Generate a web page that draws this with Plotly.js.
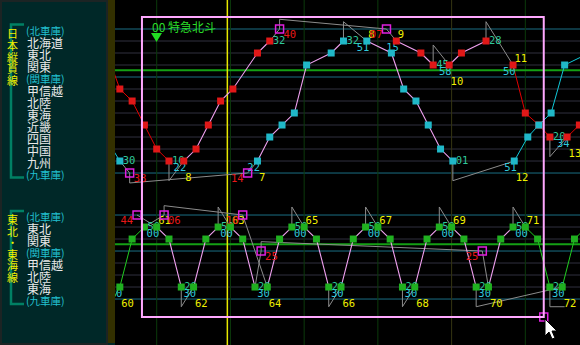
<!DOCTYPE html>
<html><head><meta charset="utf-8">
<script src="https://cdn.plot.ly/plotly-3.0.1.min.js"></script>
<style>html,body{margin:0;padding:0;background:#002828;}#chart{width:580px;height:345px;}</style>
</head><body><div id="chart"></div>
<script>
// ---------- stations (rows) ----------
const topStations = ['(北車庫)','北海道','東北','関東','(関車庫)','甲信越','北陸','東海','近畿','四国','中国','九州','(九車庫)'];
const botStations = ['(北車庫)','東北','関東','(関車庫)','甲信越','北陸','東海','(九車庫)'];
const botOffset = 15.5;

// ---------- time axis (minutes) ----------
const hourTicks = [60,120,180,240,300,360];
const nowT = 117.5;
const selT = [48, 375];
const selV = [-1, 24];
const hiliteV = [3.44, 17.94];

// ---------- 日本縦貫線 : red train ----------
const redTripNo   = ['', '8', '9', '10', '11', '13'];
const redTripSta  = [[3,5,6,8,10,11],[11,10,8,6,5,2,1],[1,2,3],[3,2,1],[3,7,8,9],[9,8]];
const redTripTime = [[23,30,40,50,60,70],[82,92,102,112,122,142,152],[255,275,285],[298,308,328],[350,360,371,380],[394,404]];

// ---------- 日本縦貫線 : cyan train ----------
const cyanTripNo   = ['', '7', '8', '12'];
const cyanTripSta  = [[10,11],[11,9,8,7,3,2,1],[1,2,5,6,8,10,11],[11,9,8,7,3,2]];
const cyanTripTime = [[24,30],[142,152,162,172,182,202,212],[231,251,261,271,281,291,301],[351,362,371,381,392,412]];

// ---------- 東北・東海線 : green train (row index in botStations) ----------
const greenTripNo   = ['60','61','62','63','64','65','66','67','68','69','70','71','72'];
const greenTripSta  = [[6,2,1],[1,2,6],[6,2,1],[1,2,6],[6,2,1],[1,2,6],[6,2,1],[1,2,6],[6,2,1],[1,2,6],[6,2,1],[1,2,6],[6,2,1]];
const greenTripTime = [[30,40,50],[60,70,80],[90,100,110],[120,130,140],[150,160,170],[180,190,200],[210,220,230],[240,250,260],[270,280,290],[300,310,320],[330,340,350],[360,370,380],[390,400,410]];
const greenLeadT = [25, 29.5];   // run-in from 九車庫
const greenLeadS = [7, 6];

// ---------- depot moves / turnaround links (gray) ----------
const grayTopT = [30,38,null, 38,38,134,142,null, 152,160,null, 160,160,247,255,null, 70,70,82,null, 212,212,231,null, 285,285,298,null, 301,301,351,null, 328,328,350,null, 380,380,394];
const grayTopV = [11,12,null, 12,12.83,12,11,null, 1,0,null, 0,-0.81,0,1,null, 11,12.64,11,null, 1,-0.61,1,null, 3,1.33,3,null, 11,12.64,11,null, 1,-0.61,3,null, 9,10.64,9];
const grayBotT = [44,60,null, 66,50,null, 66,66,130,150,null, 140,145,null, 145,145,325,330,null, 80,80,90,null, 110,110,120,null, 170,170,180,null, 200,200,210,null, 230,230,240,null, 260,260,270,null, 290,290,300,null, 320,320,390,null, 350,350,360,null, 380,380,392];
const grayBotV = [15.5,16.5,null, 15.5,16.5,null, 15.5,14.72,15.5,21.5,null, 21.5,18.5,null, 18.5,17.72,18.5,21.5,null, 21.5,23.14,21.5,null, 16.5,14.83,16.5,null, 16.5,14.83,16.5,null, 21.5,23.14,21.5,null, 16.5,14.83,16.5,null, 21.5,23.14,21.5,null, 16.5,14.83,16.5,null, 21.5,23.14,21.5,null, 16.5,14.83,16.5,null, 21.5,23.14,23.14];

// depot in / out events
const depotInT  = [38, 160, 66, 145];
const depotInV  = [12, 0, 15.5, 18.5];
const depotOutT = [134, 247, 44, 130, 325];
const depotOutV = [12, 0, 15.5, 15.5, 18.5];

// ---------- geometry ----------
const W = 580, H = 345, ML = 115;
const xRange = [26.06, 404.5];
const yRange = [26.33, -2.417];
const pxPerMin = (W - ML) / (xRange[1] - xRange[0]);
const pxPerV = H / (yRange[0] - yRange[1]);
const oT = p => p / pxPerMin;
const oV = p => p / pxPerV;
const PX = x => (x - ML) / (W - ML);
const PY = y => 1 - y / H;
const pad = t => { const m = Math.round(t) % 60; return (m < 10 ? '0' : '') + m; };
const CW = 6.3; // digit width px

const C = {pink:'#f0a0f0', gray:'#8c8c8c', teal:'#30c89a', cyan:'#30c8dc', yellow:'#f0f000', red:'#e81818', mag:'#e020e0'};

const trains = [
  {no: redTripNo, sta: redTripSta, time: redTripTime, off: 0, line: '#e00000', mk: '#e01818'},
  {no: cyanTripNo, sta: cyanTripSta, time: cyanTripTime, off: 0, line: '#10c8d8', mk: '#20b8c8'},
  {no: greenTripNo, sta: greenTripSta, time: greenTripTime, off: botOffset, line: '#20cc20', mk: '#20b020'}
];

const traces = [];
traces.push({x: grayTopT.concat([null], grayBotT), y: grayTopV.concat([null], grayBotV), mode:'lines',
  line:{color:C.gray, width:1}, hoverinfo:'skip', showlegend:false});
traces.push({x: greenLeadT, y: greenLeadS.map(s => s + botOffset), mode:'lines', line:{color:'#20cc20', width:1}, hoverinfo:'skip', showlegend:false});

const txt = {teal:{x:[],y:[],t:[]}, cyan:{x:[],y:[],t:[]}, yellow:{x:[],y:[],t:[]}, red:{x:[],y:[],t:[]}};
const addTxt = (k, x, y, t) => { if (x > xRange[0] && x < xRange[1]) { txt[k].x.push(x); txt[k].y.push(y); txt[k].t.push(t); } };
const markerTraces = [];

trains.forEach(tr => {
  const base = {x:[],y:[]}, pink = {x:[],y:[]}, mk = {x:[],y:[]};
  tr.sta.forEach((s, k) => {
    const tm = tr.time[k];
    const inSel = tm[0] >= selT[0] && tm[tm.length-1] <= selT[1];
    const tgt = inSel ? pink : base;
    s.forEach((st, i) => {
      tgt.x.push(tm[i]); tgt.y.push(st + tr.off);
      mk.x.push(tm[i]); mk.y.push(st + tr.off);
    });
    tgt.x.push(null); tgt.y.push(null);
    if (tr.no[k] !== '') {
      const d = pad(tm[0]);
      addTxt('cyan', tm[0] + oT(2.5 - d.length*CW/2), s[0] + tr.off + oV(7.5), d);
      const n = tr.no[k];
      const up = s[1] < s[0];
      addTxt('yellow', tm[0] + oT(1.5 + n.length*CW/2), s[0] + tr.off + oV(up ? 17 : -6), n);
    }
    const last = s.length - 1;
    const a = pad(tm[last]);
    addTxt('teal', tm[last] + oT(3 + a.length*CW/2), s[last] + tr.off, a);
  });
  traces.push({x: base.x, y: base.y, mode:'lines', line:{color: tr.line, width:1}, hoverinfo:'skip', showlegend:false});
  traces.push({x: pink.x, y: pink.y, mode:'lines', line:{color: C.pink, width:1.1}, hoverinfo:'skip', showlegend:false});
  markerTraces.push({x: mk.x, y: mk.y, mode:'markers', marker:{symbol:'square', size:7, color: tr.mk, line:{width:0}}, hoverinfo:'skip', showlegend:false});
});

depotInT.forEach((t, i) => { const s = pad(t); addTxt('red', t + oT(4 + s.length*CW/2), depotInV[i] + oV(6.5), s); });
depotOutT.forEach((t, i) => { const s = pad(t); addTxt('red', t - oT(4 + s.length*CW/2), depotOutV[i] + oV(6.5), s); });

Object.keys(txt).forEach(k => {
  traces.push({x: txt[k].x, y: txt[k].y, text: txt[k].t, mode:'text', textposition:'middle center',
    textfont:{family:'DejaVu Sans Mono', size:10.5, color: C[k]}, cliponaxis:true, hoverinfo:'skip', showlegend:false});
});
markerTraces.forEach(m => traces.push(m));
traces.push({x: depotInT.concat(depotOutT, [selT[1]]), y: depotInV.concat(depotOutV, [selV[1]]), mode:'markers',
  marker:{symbol:'square-open', size:8, color:C.mag, line:{width:1.5, color:C.mag}}, hoverinfo:'skip', showlegend:false, cliponaxis:false});

// ---------- shapes ----------
const shapes = [];
topStations.forEach((n, i) => shapes.push({type:'line', xref:'paper', x0:0, x1:1, yref:'y', y0:i, y1:i, layer:'below',
  line:{color: n[0]==='(' ? '#1a6e84' : '#30303f', width:1}}));
botStations.forEach((n, i) => shapes.push({type:'line', xref:'paper', x0:0, x1:1, yref:'y', y0:i+botOffset, y1:i+botOffset, layer:'below',
  line:{color: n[0]==='(' ? '#1a6e84' : '#30303f', width:1}}));
hourTicks.forEach(h => shapes.push({type:'line', xref:'x', x0:h, x1:h, yref:'paper', y0:0, y1:1, layer:'below',
  line:{color: h===300 ? '#343412' : '#0b3a0b', width:1}}));
hiliteV.forEach(v => shapes.push({type:'line', xref:'paper', x0:0, x1:1, yref:'y', y0:v, y1:v, layer:'below', line:{color:'#14a014', width:2}}));
shapes.push({type:'line', xref:'x', x0:nowT, x1:nowT, yref:'paper', y0:0, y1:1, layer:'below', line:{color:'#e8e800', width:1.5}});
shapes.push({type:'rect', xref:'x', yref:'y', x0:selT[0], x1:selT[1], y0:selV[0], y1:selV[1], layer:'above', line:{color:'#ffa8ff', width:2}});
// left panel decorations
shapes.push({type:'rect', xref:'paper', yref:'paper', x0:PX(107), x1:0, y0:PY(343), y1:PY(0), fillcolor:'#333000', line:{width:0}, layer:'above'});
shapes.push({type:'rect', xref:'paper', yref:'paper', x0:PX(1), x1:PX(107), y0:PY(344), y1:PY(1), line:{color:'#1c2424', width:2}});
[[24.5,177.5],[211,304]].forEach(b => {
  shapes.push({type:'path', xref:'paper', yref:'paper', line:{color:'#008064', width:2.5},
    path:`M${PX(24)},${PY(b[0])} L${PX(11)},${PY(b[0])} L${PX(11)},${PY(b[1])} L${PX(24)},${PY(b[1])}`});
});
shapes.push({type:'path', xref:'paper', yref:'paper', fillcolor:'#22dd22', line:{width:0},
  path:`M${PX(151)},${PY(33)} L${PX(162)},${PY(33)} L${PX(156.5)},${PY(42)} Z`});
// mouse cursor
const cur = [[545,319],[545,336],[549,332],[552,339],[555,338],[552,331],[557,331]];
shapes.push({type:'path', xref:'paper', yref:'paper', fillcolor:'#ffffff', line:{color:'#000000', width:1},
  path: 'M' + cur.map(p => PX(p[0]) + ',' + PY(p[1])).join(' L') + ' Z'});

// ---------- annotations ----------
const ann = [];
const labelFont = 'Noto Sans CJK JP';
const addStation = (n, v) => ann.push({xref:'paper', yref:'y', x: PX(n[0]==='(' ? 25 : 26), y: v, xanchor:'left', yanchor:'middle', yshift:-1,
  showarrow:false, borderpad:0, text:n, font:{family:labelFont, size: n[0]==='(' ? 10.5 : 12, color: n[0]==='(' ? '#22c0d0' : '#e8e8e8'}});
topStations.forEach((n, i) => addStation(n, i));
botStations.forEach((n, i) => addStation(n, i + botOffset));
const title1 = ['日','本','縦','貫','線'];
const title2 = ['東','北','・','東','海','線'];
title1.forEach((c, i) => ann.push({xref:'paper', yref:'paper', x:PX(12.5), y:PY(33 + i*11.75), xanchor:'center', yanchor:'middle', showarrow:false, borderpad:0,
  text:c, font:{family:labelFont, size:11, color:'#f0f000'}}));
title2.forEach((c, i) => ann.push({xref:'paper', yref:'paper', x:PX(12.5), y:PY(219 + i*11.5), xanchor:'center', yanchor:'middle', showarrow:false, borderpad:0,
  text:c, font:{family:labelFont, size:11, color:'#f0f000'}}));
ann.push({xref:'paper', yref:'paper', x:PX(150), y:PY(27), xanchor:'left', yanchor:'middle', showarrow:false,
  text:'00 特急北斗', font:{family:labelFont, size:12, color:'#2add2a'}});

const layout = {
  width:W, height:H, margin:{l:ML, r:0, t:0, b:0},
  paper_bgcolor:'#002828', plot_bgcolor:'#000000',
  xaxis:{range:xRange, showgrid:false, zeroline:false, showticklabels:false, ticks:'', fixedrange:true},
  yaxis:{range:yRange, showgrid:false, zeroline:false, showticklabels:false, ticks:'', fixedrange:true},
  shapes: shapes, annotations: ann, showlegend:false
};
Plotly.newPlot('chart', traces, layout, {displayModeBar:false, staticPlot:true});
</script></body></html>
